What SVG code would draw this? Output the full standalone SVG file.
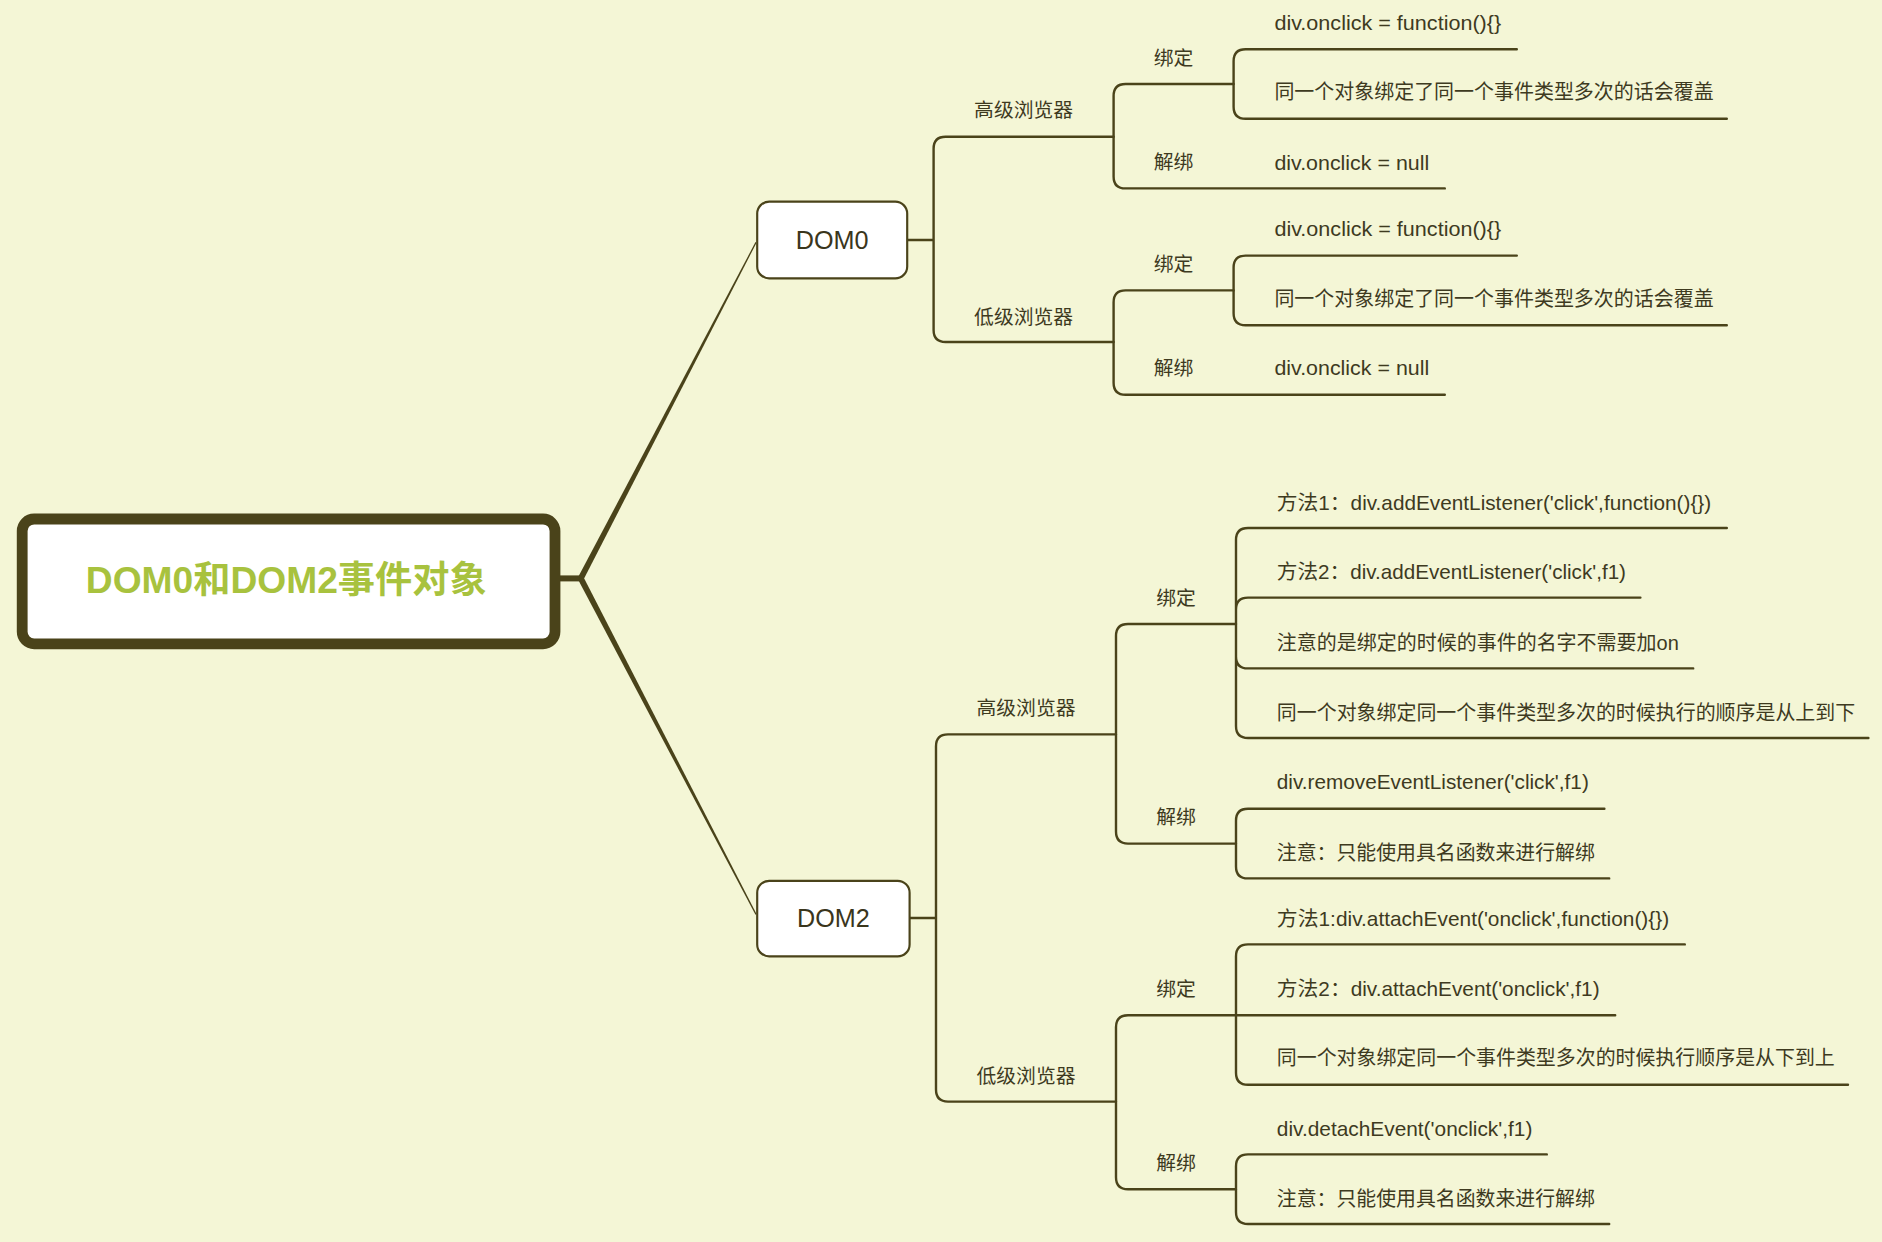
<svg xmlns="http://www.w3.org/2000/svg" width="1882" height="1242" viewBox="0 0 1882 1242">
<style>
.bg{fill:#f4f6d6}
.ln{fill:none;stroke:#4a431a;stroke-width:2;stroke-linecap:round}
.t{font-family:"Liberation Sans","Noto Sans CJK SC",sans-serif;font-size:17px;fill:#3e3a1f;dominant-baseline:central}
.lb{font-family:"Liberation Sans","Noto Sans CJK SC",sans-serif;font-size:16.5px;fill:#3e3a1f;dominant-baseline:central;text-anchor:middle}
.box{fill:#ffffff;stroke:#4a431a;stroke-width:1.8}
.bt{font-family:"Liberation Sans","Noto Sans CJK SC",sans-serif;font-size:21px;fill:#3a361c;dominant-baseline:central;text-anchor:middle}
</style>
<rect class="bg" x="0" y="0" width="1882" height="1242"/>
<g transform="scale(1.2)">
<g id="connectors">
<line x1="466" y1="482" x2="485" y2="482" stroke="#4a431a" stroke-width="5"/>
<polygon fill="#4a431a" points="481.8,480.85 486.2,483.15 630.44,202.23 629.56,201.77"/>
<polygon fill="#4a431a" points="481.8,483.15 486.2,480.85 630.44,761.77 629.56,762.23"/>
<path class="ln" d="M756,200 H778 M778,200 V124 Q778,114 788,114 H928 M778,200 V275 Q778,285 788,285 H928"/>
<path class="ln" d="M928,114 V80 Q928,70 938,70 H1028 M928,114 V147 Q928,157 938,157 H1204"/>
<path class="ln" d="M1028,70 V51 Q1028,41 1038,41 H1264 M1028,70 V89 Q1028,99 1038,99 H1439"/>
<path class="ln" d="M928,285 V252 Q928,242 938,242 H1028 M928,285 V319 Q928,329 938,329 H1204"/>
<path class="ln" d="M1028,242 V223 Q1028,213 1038,213 H1264 M1028,242 V261 Q1028,271 1038,271 H1439"/>
<path class="ln" d="M758,765 H780 M780,765 V622 Q780,612 790,612 H930 M780,765 V908 Q780,918 790,918 H930"/>
<path class="ln" d="M930,612 V530 Q930,520 940,520 H1030 M930,612 V693 Q930,703 940,703 H1030"/>
<path class="ln" d="M1030,520 V450 Q1030,440 1040,440 H1439 M1030,520 V508 Q1030,498 1040,498 H1367 M1030,520 V547 Q1030,557 1040,557 H1411 M1030,520 V605 Q1030,615 1040,615 H1557"/>
<path class="ln" d="M1030,703 V684 Q1030,674 1040,674 H1337 M1030,703 V722 Q1030,732 1040,732 H1341"/>
<path class="ln" d="M930,918 V856 Q930,846 940,846 H1030 M930,918 V981 Q930,991 940,991 H1030"/>
<path class="ln" d="M1030,846 V797 Q1030,787 1040,787 H1404 M1030,846 H1346 M1030,846 V894 Q1030,904 1040,904 H1540"/>
<path class="ln" d="M1030,991 V972 Q1030,962 1040,962 H1289 M1030,991 V1010 Q1030,1020 1040,1020 H1341"/>
</g>
<g id="root">
<rect x="18.5" y="432.5" width="444" height="104" rx="10" fill="#ffffff" stroke="#4a431a" stroke-width="9"/>
<text x="238.5" y="483" font-family="'Liberation Sans','Noto Sans CJK SC',sans-serif" font-size="31" font-weight="bold" fill="#a8c23e" text-anchor="middle" dominant-baseline="central">DOM0和DOM2事件对象</text>
</g>
<g id="dom0">
<rect class="box" x="631" y="168" width="125" height="64" rx="10"/>
<text class="bt" x="693.5" y="200">DOM0</text>
</g>
<g id="dom2">
<rect class="box" x="631" y="734" width="127" height="63" rx="10"/>
<text class="bt" x="694.5" y="765">DOM2</text>
</g>
<g id="dom0-high"><text class="lb" x="853" y="92">高级浏览器</text></g>
<g id="dom0-low"><text class="lb" x="853" y="264">低级浏览器</text></g>
<g id="dom0-high-bind"><text class="lb" x="978" y="48">绑定</text></g>
<g id="dom0-high-unbind"><text class="lb" x="978" y="135">解绑</text></g>
<g id="dom0-low-bind"><text class="lb" x="978" y="220">绑定</text></g>
<g id="dom0-low-unbind"><text class="lb" x="978" y="307">解绑</text></g>
<g id="dom0-high-bind-1"><text class="t" x="1062" y="19" textLength="189" lengthAdjust="spacingAndGlyphs">div.onclick = function(){}</text></g>
<g id="dom0-high-bind-2"><text class="t" x="1062" y="77" textLength="366" lengthAdjust="spacingAndGlyphs">同一个对象绑定了同一个事件类型多次的话会覆盖</text></g>
<g id="dom0-high-unbind-1"><text class="t" x="1062" y="136" textLength="129" lengthAdjust="spacingAndGlyphs">div.onclick = null</text></g>
<g id="dom0-low-bind-1"><text class="t" x="1062" y="191" textLength="189" lengthAdjust="spacingAndGlyphs">div.onclick = function(){}</text></g>
<g id="dom0-low-bind-2"><text class="t" x="1062" y="249" textLength="366" lengthAdjust="spacingAndGlyphs">同一个对象绑定了同一个事件类型多次的话会覆盖</text></g>
<g id="dom0-low-unbind-1"><text class="t" x="1062" y="307" textLength="129" lengthAdjust="spacingAndGlyphs">div.onclick = null</text></g>
<g id="dom2-high"><text class="lb" x="855" y="590">高级浏览器</text></g>
<g id="dom2-low"><text class="lb" x="855" y="897">低级浏览器</text></g>
<g id="dom2-high-bind"><text class="lb" x="980" y="498">绑定</text></g>
<g id="dom2-high-unbind"><text class="lb" x="980" y="681">解绑</text></g>
<g id="dom2-low-bind"><text class="lb" x="980" y="824">绑定</text></g>
<g id="dom2-low-unbind"><text class="lb" x="980" y="969">解绑</text></g>
<g id="dom2-high-bind-1"><text class="t" x="1064" y="419" textLength="362" lengthAdjust="spacingAndGlyphs">方法1：div.addEventListener('click',function(){})</text></g>
<g id="dom2-high-bind-2"><text class="t" x="1064" y="477" textLength="291" lengthAdjust="spacingAndGlyphs">方法2：div.addEventListener('click',f1)</text></g>
<g id="dom2-high-bind-3"><text class="t" x="1064" y="536" textLength="335" lengthAdjust="spacingAndGlyphs">注意的是绑定的时候的事件的名字不需要加on</text></g>
<g id="dom2-high-bind-4"><text class="t" x="1064" y="594" textLength="482" lengthAdjust="spacingAndGlyphs">同一个对象绑定同一个事件类型多次的时候执行的顺序是从上到下</text></g>
<g id="dom2-high-unbind-1"><text class="t" x="1064" y="652" textLength="260" lengthAdjust="spacingAndGlyphs">div.removeEventListener('click',f1)</text></g>
<g id="dom2-high-unbind-2"><text class="t" x="1064" y="711" textLength="265" lengthAdjust="spacingAndGlyphs">注意：只能使用具名函数来进行解绑</text></g>
<g id="dom2-low-bind-1"><text class="t" x="1064" y="766" textLength="327" lengthAdjust="spacingAndGlyphs">方法1:div.attachEvent('onclick',function(){})</text></g>
<g id="dom2-low-bind-2"><text class="t" x="1064" y="824" textLength="269" lengthAdjust="spacingAndGlyphs">方法2：div.attachEvent('onclick',f1)</text></g>
<g id="dom2-low-bind-3"><text class="t" x="1064" y="882" textLength="465" lengthAdjust="spacingAndGlyphs">同一个对象绑定同一个事件类型多次的时候执行顺序是从下到上</text></g>
<g id="dom2-low-unbind-1"><text class="t" x="1064" y="941" textLength="213" lengthAdjust="spacingAndGlyphs">div.detachEvent('onclick',f1)</text></g>
<g id="dom2-low-unbind-2"><text class="t" x="1064" y="999" textLength="265" lengthAdjust="spacingAndGlyphs">注意：只能使用具名函数来进行解绑</text></g>
</g>
</svg>
